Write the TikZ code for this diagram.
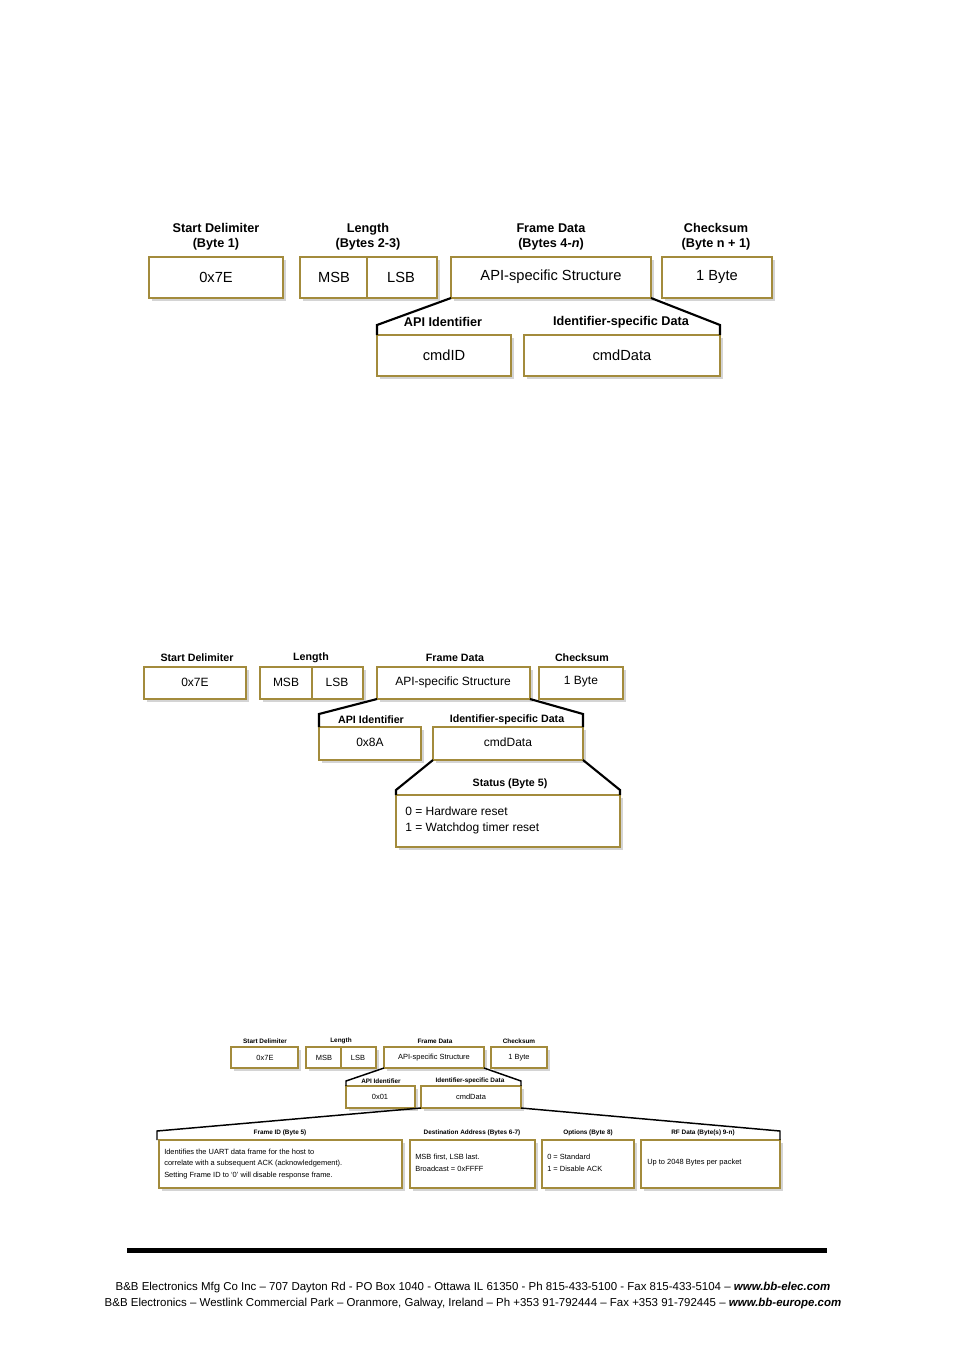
\documentclass[tikz,border=0pt]{standalone}
\usepackage{fontspec}
\setmainfont{Liberation Sans}
\definecolor{gold}{HTML}{A38B3C}
\definecolor{shad}{HTML}{D4D4D4}
\begin{document}
\begin{tikzpicture}[x=0.75pt,y=-0.75pt,
  bx/.style={draw=gold,line width=2.2pt,fill=white,inner sep=0pt},
  trap/.style={line width=1.6pt,black},
  lab/.style={inner sep=0pt,font=\bfseries},
  L1/.style={font=\fontsize{9.5}{11}\selectfont\bfseries,inner sep=0pt,align=center},
  L2/.style={font=\fontsize{8}{9}\selectfont\bfseries,inner sep=0pt},
  L3/.style={font=\fontsize{4.8}{5.5}\selectfont\bfseries,inner sep=0pt},
  T1/.style={font=\fontsize{11}{13}\selectfont,inner sep=0pt},
  T2/.style={font=\fontsize{9}{10}\selectfont,inner sep=0pt},
  T3/.style={font=\fontsize{5.6}{8.8}\selectfont,inner sep=0pt,align=left}]
\useasboundingbox (0,0) rectangle (954,1354);
\fill[white] (0,0) rectangle (954,1354);
\newcommand{\bxx}[6]{% name x1 y1 x2 y2 text-style+text
  \fill[shad] (#2+3,#3+3) rectangle (#4+3,#5+3);
  \draw[bx] (#2,#3) rectangle (#4,#5);
  \coordinate (#1nw) at (#2,#3); \coordinate (#1ne) at (#4,#3);
  \coordinate (#1sw) at (#2,#5); \coordinate (#1se) at (#4,#5);
  \node[#6] (#1) at ({(#2+#4)/2},{(#3+#5)/2}) {};}
% ===== Diagram 1 =====
\bxx{a}{149}{257}{283}{298}{T1}
\bxx{b}{300}{257}{437}{298}{T1}
\draw[gold,line width=2.2pt] (367,257) -- (367,298);
\bxx{c}{451}{257}{651}{298}{T1}
\bxx{d}{662}{257}{772}{298}{T1}
\bxx{e}{377}{335}{511}{376}{T1}
\bxx{f}{524}{335}{720}{376}{T1}
\node[T1] at (216,277) {0x7E};
\node[T1] at (334,277) {MSB};
\node[T1] at (401,277) {LSB};
\node[T1] at (551,277) {API-specific Structure};
\node[T1] at (717,277) {1 Byte};
\node[T1] at (444,355) {cmdID};
\node[T1] at (622,355) {cmdData};
\node[L1] (la) at (216,237) {Start Delimiter\\(Byte 1)};
\node[L1] (lb) at (368,237) {Length\\(Bytes 2-3)};
\node[L1] (lc) at (551,237) {Frame Data\\(Bytes 4-\textit{n})};
\node[L1] (ld) at (716,237) {Checksum\\(Byte n + 1)};
\node[L1] (le) at (443,322) {API Identifier};
\node[L1] (lf) at (621,322) {Identifier-specific Data};
\draw[trap] (csw) -- (377,325) -- (enw);
\draw[trap] (cse) -- (720,325) -- (fne);
% ===== Diagram 2 =====
\bxx{g}{144}{667}{246}{699}{T2}
\bxx{h}{260}{667}{363}{699}{T2}
\draw[gold,line width=2.2pt] (312,667) -- (312,699);
\bxx{i}{377}{667}{530}{699}{T2}
\bxx{j}{539}{667}{623}{699}{T2}
\bxx{k}{319}{727}{421}{760}{T2}
\bxx{l}{433}{727}{583}{760}{T2}
\bxx{m}{396}{795}{620}{847}{T2}
\node[L2] at (197,658) {Start Delimiter};
\node[L2] at (311,658) {Length};
\node[L2] at (455,658) {Frame Data};
\node[L2] at (582,658) {Checksum};
\node[T2] at (195,682) {0x7E};
\node[T2] at (286,682) {MSB};
\node[T2] at (337,682) {LSB};
\node[T2] at (453,682) {API-specific Structure};
\node[T2] at (581,682) {1 Byte};
\node[L2] at (371,720) {API Identifier};
\node[L2] at (507,720) {Identifier-specific Data};
\node[T2] at (370,742) {0x8A};
\node[T2] at (508,742) {cmdData};
\node[L2] at (510,784) {Status (Byte 5)};
\node[T2,anchor=west] at (405,811) {0 = Hardware reset};
\node[T2,anchor=west] at (405,828) {1 = Watchdog timer reset};
\draw[trap] (isw) -- (319,714) -- (knw);
\draw[trap] (ise) -- (583,714) -- (lne);
\draw[trap] (lsw) -- (396,790) -- (mnw);
\draw[trap] (lse) -- (620,790) -- (mne);
% ===== Diagram 3 =====
\bxx{n}{231}{1047}{298}{1068}{T3}
\bxx{o}{306}{1047}{376}{1068}{T3}
\draw[gold,line width=1.6pt] (341,1047) -- (341,1068);
\bxx{p}{384}{1047}{484}{1068}{T3}
\bxx{q}{491}{1047}{547}{1068}{T3}
\bxx{r}{346}{1086}{415}{1108}{T3}
\bxx{s}{421}{1086}{521}{1108}{T3}
\bxx{t}{159}{1140}{402}{1188}{T3}
\bxx{u}{410}{1140}{535}{1188}{T3}
\bxx{v}{542}{1140}{634}{1188}{T3}
\bxx{w}{641}{1140}{780}{1188}{T3}
\node[L3] at (265,1041) {Start Delimiter};
\node[L3] at (341,1041) {Length};
\node[L3] at (435,1041) {Frame Data};
\node[L3] at (519,1041) {Checksum};
\node[T3] at (265,1058) {0x7E};
\node[T3] at (324,1058) {MSB};
\node[T3] at (358,1058) {LSB};
\node[T3] at (434,1058) {API-specific Structure};
\node[T3] at (519,1058) {1 Byte};
\node[L3] at (381,1081) {API Identifier};
\node[L3] at (470,1081) {Identifier-specific Data};
\node[T3] at (380,1097) {0x01};
\node[T3] at (471,1097) {cmdData};
\node[L3] at (280,1133) {Frame ID (Byte 5)};
\node[L3] at (472,1133) {Destination Address (Bytes 6-7)};
\node[L3] at (588,1133) {Options (Byte 8)};
\node[L3] at (703,1133) {RF Data (Byte(s) 9-n)};
\node[T3,anchor=west] at (164,1164) {Identifies the UART data frame for the host to\\correlate with a subsequent ACK (acknowledgement).\\Setting Frame ID to `0' will disable response frame.};
\node[T3,anchor=west] at (415,1163) {MSB first, LSB last.\\Broadcast = 0xFFFF};
\node[T3,anchor=west] at (547,1163) {0 = Standard\\1 = Disable ACK};
\node[T3,anchor=west] at (647,1163) {Up to 2048 Bytes per packet};
\draw[trap,line width=1.1pt] (psw) -- (346,1081) -- (rnw);
\draw[trap,line width=1.1pt] (pse) -- (521,1081) -- (sne);
\draw[trap,line width=1.1pt] (ssw) -- (157,1131) -- (157,1140);
\draw[trap,line width=1.1pt] (sse) -- (780,1131) -- (wne);
% ===== Footer =====
\fill[black] (127,1248) rectangle (827,1253);
\node[inner sep=0pt,font=\fontsize{8.6}{10}\selectfont] (f1) at (473,1288) {B\&B Electronics Mfg Co Inc -- 707 Dayton Rd - PO Box 1040 - Ottawa IL 61350 - Ph 815-433-5100 - Fax 815-433-5104 -- \textbf{\textit{www.bb-elec.com}}};
\node[inner sep=0pt,font=\fontsize{8.6}{10}\selectfont] (f2) at (473,1304) {B\&B Electronics -- Westlink Commercial Park -- Oranmore, Galway, Ireland -- Ph +353 91-792444 -- Fax +353 91-792445 -- \textbf{\textit{www.bb-europe.com}}};
\end{tikzpicture}
\end{document}
